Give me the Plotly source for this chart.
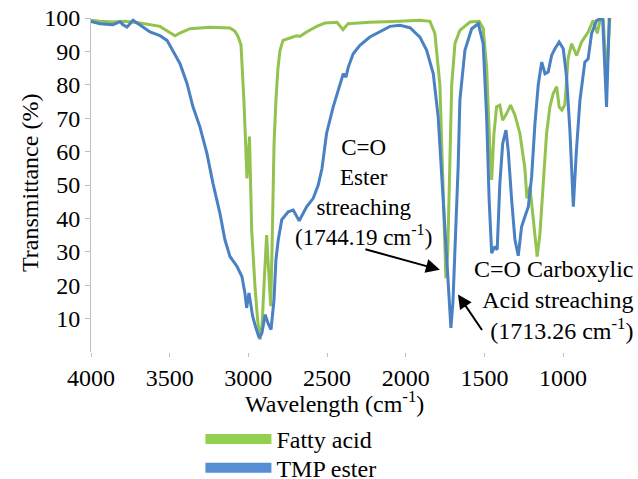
import plotly.graph_objects as go

# Fatty acid spectrum (wavenumber cm-1, transmittance %)
fa_wn = [4000, 3943, 3860, 3784, 3689, 3562, 3466, 3435, 3371, 3244, 3117, 3085, 3066, 3047, 3028,
         3009, 2993, 2979, 2958, 2942, 2926, 2913, 2899, 2884, 2872, 2858, 2850, 2837, 2825, 2812,
         2799, 2780, 2736, 2693, 2672, 2630, 2566, 2513, 2437, 2399, 2367, 2228, 2037, 1910, 1846,
         1815, 1783, 1766, 1754, 1745, 1733, 1724, 1708, 1687, 1656, 1592, 1533, 1508, 1486, 1465,
         1454, 1440, 1423, 1402, 1384, 1359, 1334, 1306, 1275, 1243, 1230, 1211, 1192, 1165, 1148,
         1127, 1105, 1084, 1063, 1041, 1025, 1008, 989, 968, 946, 914, 883, 841, 809, 783, 766, 745,
         724, 703]
fa_t = [99.3, 99.0, 98.8, 99.0, 98.5, 97.5, 94.7, 95.5, 96.8, 97.2, 97.0, 96.0, 94.5, 92.0, 75.0,
        52.0, 64.5, 36.6, 19.6, 10.0, 3.7, 8.0, 21.6, 35.0, 25.0, 13.7, 30.0, 62.0, 75.4, 85.0,
        90.3, 93.3, 94.0, 94.7, 94.5, 95.8, 97.5, 98.5, 98.7, 96.5, 98.3, 98.7, 99.0, 99.3, 99.0,
        95.4, 80.0, 55.0, 35.0, 22.1, 30.0, 45.5, 80.0, 92.4, 96.3, 98.8, 99.0, 96.9, 85.3, 60.4,
        51.5, 65.0, 73.4, 73.9, 69.4, 71.4, 73.9, 70.9, 65.5, 55.0, 46.0, 49.5, 40.0, 28.6, 35.0,
        50.5, 65.5, 73.4, 77.4, 79.4, 73.4, 72.4, 74.0, 88.0, 92.3, 88.8, 92.8, 95.8, 99.3, 95.4,
        99.3, 99.3, 81.8, 100.0]

# TMP ester spectrum
tmp_wn = [4000, 3943, 3860, 3816, 3797, 3771, 3733, 3708, 3670, 3625, 3562, 3517, 3479, 3435, 3390,
          3352, 3308, 3263, 3225, 3181, 3149, 3117, 3072, 3041, 3022, 3011, 2996, 2973, 2952, 2931,
          2914, 2893, 2876, 2856, 2837, 2825, 2810, 2788, 2747, 2715, 2677, 2630, 2588, 2556, 2532,
          2503, 2461, 2418, 2397, 2380, 2365, 2334, 2291, 2228, 2164, 2100, 2037, 1973, 1910, 1867,
          1825, 1794, 1762, 1730, 1713, 1700, 1687, 1667, 1656, 1624, 1581, 1539, 1508, 1486, 1470,
          1454, 1433, 1419, 1402, 1384, 1363, 1349, 1327, 1306, 1285, 1264, 1243, 1221, 1200, 1179,
          1158, 1136, 1115, 1095, 1073, 1052, 1025, 999, 978, 957, 935, 916, 893, 862, 841, 819, 787,
          749, 724, 707]
tmp_t = [99.0, 98.3, 98.0, 98.9, 98.0, 97.3, 99.3, 98.4, 97.3, 95.8, 94.7, 93.3, 90.3, 86.4, 80.4,
         73.4, 67.4, 59.4, 50.5, 41.6, 33.6, 28.6, 25.6, 22.6, 17.7, 13.2, 17.7, 10.7, 7.2, 4.2,
         5.7, 11.2, 8.7, 6.7, 15.7, 27.6, 33.6, 39.6, 42.0, 42.5, 39.3, 43.5, 46.0, 50.0, 55.0,
         65.5, 73.4, 80.4, 83.3, 82.3, 85.3, 89.3, 91.8, 94.3, 95.8, 97.5, 97.8, 97.1, 94.3, 90.3,
         83.3, 70.4, 45.5, 20.7, 7.2, 15.0, 30.6, 55.5, 75.4, 90.3, 96.8, 98.3, 92.3, 70.4, 45.5,
         29.6, 31.6, 30.6, 50.5, 62.4, 66.4, 60.4, 45.5, 33.6, 28.8, 37.5, 40.5, 43.5, 52.5, 68.4,
         80.0, 86.8, 83.3, 83.8, 88.8, 90.8, 92.8, 90.8, 82.3, 66.4, 43.5, 60.0, 75.4, 86.8, 87.8,
         95.4, 99.3, 100.0, 73.4, 100.0]

x_ticks = [4000, 3500, 3000, 2500, 2000, 1500, 1000]
y_ticks = [10, 20, 30, 40, 50, 60, 70, 80, 90, 100]

GREEN = "#93C24F"
BLUE = "#4A80C4"
GREEN_L = "#92D050"
BLUE_L = "#558ED5"
FONT = "Liberation Serif, Tinos, DejaVu Serif, serif"

fig = go.Figure()
fig.add_trace(go.Scatter(x=fa_wn, y=fa_t, mode="lines", line=dict(color=GREEN, width=3),
                         name="Fatty acid", showlegend=False))
fig.add_trace(go.Scatter(x=tmp_wn, y=tmp_t, mode="lines", line=dict(color=BLUE, width=3),
                         name="TMP ester", showlegend=False))
# legend entries (one legend each for exact placement)
fig.add_trace(go.Scatter(x=[None], y=[None], mode="lines", line=dict(color=GREEN_L, width=10),
                         name="Fatty acid", legend="legend"))
fig.add_trace(go.Scatter(x=[None], y=[None], mode="lines", line=dict(color=BLUE_L, width=10),
                         name="TMP ester", legend="legend2"))

leg_common = dict(xanchor="left", yanchor="top", font=dict(family=FONT, size=24),
                  itemwidth=66, bgcolor="rgba(0,0,0,0)")

fig.update_layout(
    width=638, height=479,
    margin=dict(l=91, r=8, t=17.5, b=126.5, autoexpand=False),
    paper_bgcolor="white", plot_bgcolor="white",
    font=dict(family=FONT, size=24, color="black"),
    showlegend=True,
    legend=dict(x=0.203, y=-0.194, **leg_common),
    legend2=dict(x=0.203, y=-0.2805, **leg_common),
    xaxis=dict(range=[4000, 575], tickvals=x_ticks, ticktext=[str(v) for v in x_ticks],
               showgrid=False, zeroline=False, showline=False,
               ticks="outside", ticklen=4, tickcolor="#BFBFBF", tickwidth=1,
               tickfont=dict(family=FONT, size=24)),
    yaxis=dict(range=[0, 100], tickvals=y_ticks, ticktext=[str(v) for v in y_ticks],
               showgrid=False, zeroline=False, showline=True, linecolor="#BFBFBF", linewidth=1,
               ticks="outside", ticklen=5, tickcolor="#BFBFBF", tickwidth=1,
               tickfont=dict(family=FONT, size=24)),
)

anns = [
    dict(text="Wavelength (cm<sup>-1</sup>)", xref="paper", yref="paper",
         x=(334 - 91) / 539, y=(352.5 - 403) / 335, xanchor="center", yanchor="middle",
         showarrow=False, font=dict(family=FONT, size=24)),
    dict(text="Transmittance (%)", xref="paper", yref="paper",
         x=(30 - 91) / 539, y=(352.5 - 183) / 335, xanchor="center", yanchor="middle",
         textangle=-90, showarrow=False, font=dict(family=FONT, size=24)),
    dict(text="C=O<br>Ester<br>streaching<br>(1744.19 cm<sup>-1</sup>)", xref="paper", yref="paper",
         x=(364 - 91) / 539, y=(352.5 - 193) / 335, xanchor="center", yanchor="middle",
         align="center", showarrow=False, font=dict(family=FONT, size=23)),
    dict(text="C=O Carboxylic<br>Acid streaching<br>(1713.26 cm<sup>-1</sup>)", xref="paper", yref="paper",
         x=(636 - 91) / 539, y=(352.5 - 300) / 335, xanchor="right", yanchor="middle",
         align="right", showarrow=False, font=dict(family=FONT, size=24)),
    dict(text="", x=1783, y=24.6, xref="x", yref="y", showarrow=True, ax=-76, ay=-21,
         arrowhead=2, arrowwidth=2, arrowsize=1.4, arrowcolor="black"),
    dict(text="", x=1668, y=17.2, xref="x", yref="y", showarrow=True, ax=25, ay=37,
         arrowhead=2, arrowwidth=2, arrowsize=1.4, arrowcolor="black"),
]
fig.update_layout(annotations=anns)

fig.write_html("out.html", config={"displayModeBar": False},
               post_script="document.body.style.margin='0';")
